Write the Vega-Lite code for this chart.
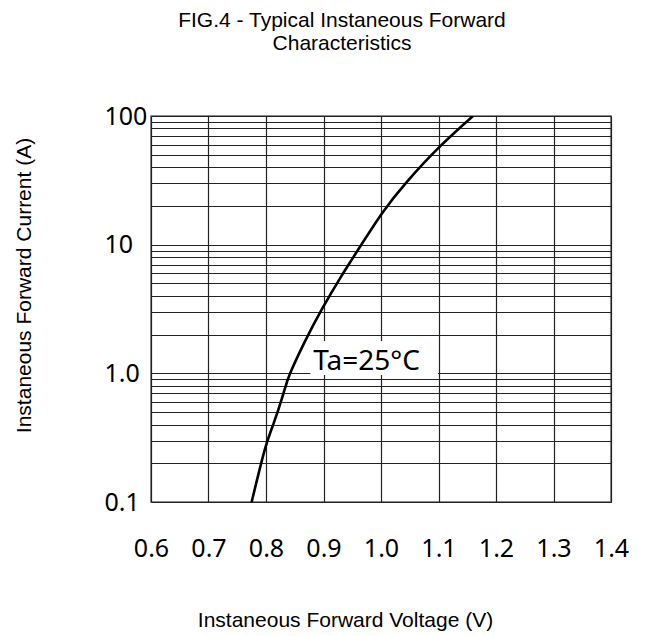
{
  "$schema": "https://vega.github.io/schema/vega-lite/v6.json",
  "autosize": {"type": "none"},
  "padding": {"left": 151, "top": 116, "right": 34, "bottom": 134},
  "width": 460,
  "height": 386,
  "background": "white",
  "title": {
    "text": ["FIG.4 - Typical Instaneous Forward", "Characteristics"],
    "font": "Liberation Sans",
    "fontSize": 21,
    "fontWeight": "normal",
    "lineHeight": 23,
    "color": "#000000",
    "anchor": "middle",
    "frame": "group",
    "dx": -39,
    "offset": 50
  },
  "config": {
    "view": {"stroke": "#666666", "strokeWidth": 1.5}
  },
  "datasets": {
    "curve": [
      {"V": 0.775, "I": 0.1},
      {"V": 0.798, "I": 0.256},
      {"V": 0.813, "I": 0.405},
      {"V": 0.830, "I": 0.69},
      {"V": 0.842, "I": 1.0},
      {"V": 0.868, "I": 1.78},
      {"V": 0.898, "I": 3.2},
      {"V": 0.929, "I": 5.5},
      {"V": 0.952, "I": 8.0},
      {"V": 1.001, "I": 17.3},
      {"V": 1.045, "I": 30.8},
      {"V": 1.100, "I": 56.5},
      {"V": 1.160, "I": 100}
    ],
    "note": [
      {"x1": 0.877, "x2": 1.099, "y1": 0.97, "y2": 1.78, "tx": 0.882, "ty": 1.22, "label": "Ta=25°C"}
    ]
  },
  "layer": [
    {
      "data": {"name": "curve"},
      "mark": {"type": "line", "color": "#000000", "strokeWidth": 2.6, "interpolate": "natural", "clip": true},
      "encoding": {
        "x": {
          "field": "V", "type": "quantitative",
          "scale": {"domain": [0.6, 1.4], "nice": false, "zero": false},
          "axis": {
            "values": [0.6, 0.7, 0.8, 0.9, 1.0, 1.1, 1.2, 1.3, 1.4],
            "format": ".1f",
            "domain": false,
            "ticks": false,
            "tickSize": 0,
            "grid": true,
            "gridColor": "#222222",
            "gridWidth": 1.2,
            "gridOpacity": 1,
            "labelFont": "Noto Sans",
            "labelFontSize": 25,
            "labelColor": "#000000",
            "labelPadding": 46,
            "labelBaseline": "middle",
            "labelFlush": false,
            "labelOverlap": false,
            "title": "Instaneous Forward Voltage (V)",
            "titleFont": "Liberation Sans",
            "titleFontSize": 21,
            "titleFontWeight": "normal",
            "titleColor": "#000000",
            "titleX": 194,
            "titleY": 118,
            "titleAlign": "center",
            "titleBaseline": "middle"
          }
        },
        "y": {
          "field": "I", "type": "quantitative",
          "scale": {"type": "log", "domain": [0.1, 100], "nice": false},
          "axis": {
            "values": [0.1, 0.2, 0.3, 0.4, 0.5, 0.6, 0.7, 0.8, 0.9, 1, 2, 3, 4, 5, 6, 7, 8, 9, 10, 20, 30, 40, 50, 60, 70, 80, 90, 100],
            "labelExpr": "datum.value == 0.1 ? '0.1' : datum.value == 1 ? '1.0' : datum.value == 10 ? '10' : datum.value == 100 ? '100' : ''",
            "domain": false,
            "ticks": false,
            "tickSize": 0,
            "grid": true,
            "gridColor": "#222222",
            "gridWidth": 1.2,
            "gridOpacity": 1,
            "labelFont": "Noto Sans",
            "labelFontSize": 25,
            "labelColor": "#000000",
            "labelAlign": "left",
            "labelPadding": 47,
            "labelBaseline": "middle",
            "labelFlush": false,
            "labelOverlap": false,
            "title": "Instaneous Forward Current (A)",
            "titleFont": "Liberation Sans",
            "titleFontSize": 21,
            "titleFontWeight": "normal",
            "titleColor": "#000000",
            "titleAngle": -90,
            "titleX": -127,
            "titleY": 169,
            "titleAlign": "center",
            "titleBaseline": "middle"
          }
        }
      }
    },
    {
      "data": {"name": "note"},
      "mark": {"type": "rect", "color": "white", "opacity": 1},
      "encoding": {
        "x": {"field": "x1", "type": "quantitative"},
        "x2": {"field": "x2"},
        "y": {"field": "y1", "type": "quantitative"},
        "y2": {"field": "y2"}
      }
    },
    {
      "data": {"name": "note"},
      "mark": {"type": "text", "font": "Noto Sans", "fontSize": 28, "align": "left", "baseline": "middle", "color": "#000000"},
      "encoding": {
        "x": {"field": "tx", "type": "quantitative"},
        "y": {"field": "ty", "type": "quantitative"},
        "text": {"field": "label"}
      }
    }
  ]
}
